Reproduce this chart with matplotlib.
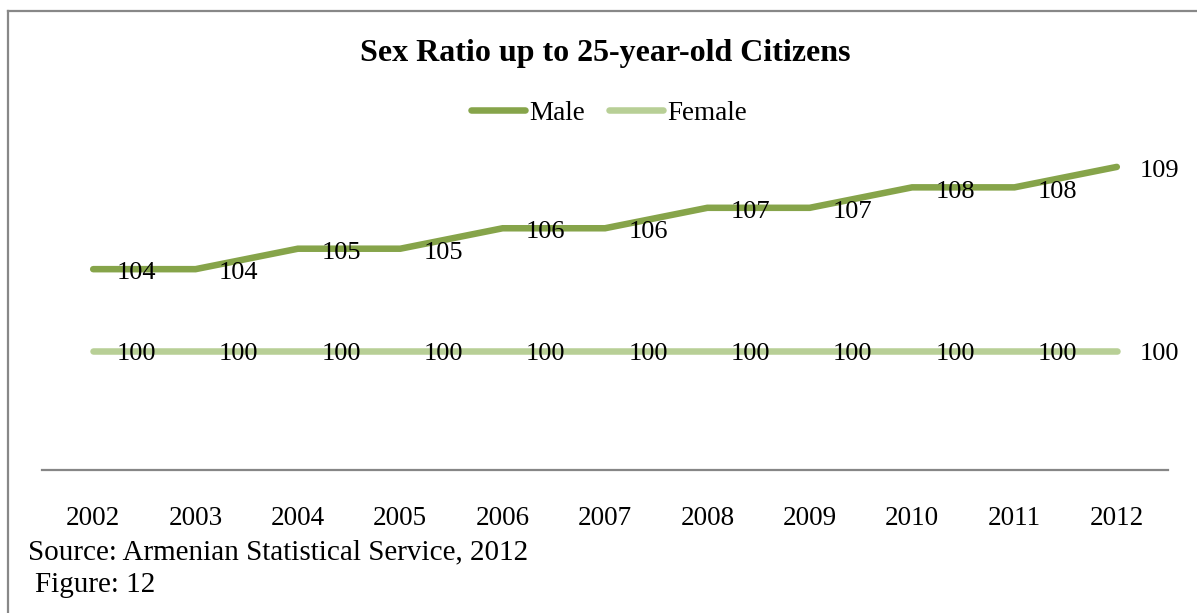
import matplotlib
matplotlib.use("Agg")
import matplotlib.pyplot as plt
from matplotlib.lines import Line2D

plt.rcParams['font.family'] = ['Liberation Serif', 'DejaVu Serif']

years = ['2002', '2003', '2004', '2005', '2006', '2007', '2008', '2009', '2010', '2011', '2012']
male = [104, 104, 105, 105, 106, 106, 107, 107, 108, 108, 109]
female = [100, 100, 100, 100, 100, 100, 100, 100, 100, 100, 100]

W, H = 1197, 613
fig = plt.figure(figsize=(W / 100, H / 100), dpi=100)

# axes box in pixel terms: x from 42 to 1168, y from 126 (top) to 470 (axis line)
ax = fig.add_axes([42 / W, 1 - 470 / H, (1168 - 42) / W, (470 - 126) / H])
x = list(range(len(years)))
male_c = '#86A44A'
female_c = '#B8CF96'
ax.plot(x, male, color=male_c, lw=4.7, solid_capstyle='round', solid_joinstyle='miter', label='Male')
ax.plot(x, female, color=female_c, lw=4.7, solid_capstyle='round', label='Female')

for xi, v in zip(x, male):
    ax.annotate(str(v), (xi, v), xytext=(31, -3), textcoords='offset points',
                ha='center', va='center', fontsize=19)
for xi, v in zip(x, female):
    ax.annotate(str(v), (xi, v), xytext=(31, -2), textcoords='offset points',
                ha='center', va='center', fontsize=19)

ax.set_xlim(-0.5, len(years) - 0.5)
ax.set_ylim(94.18, 111)
ax.set_xticks(x)
ax.set_xticklabels(years, fontsize=19.5)
ax.set_yticks([])
ax.tick_params(axis='x', length=0, pad=26)
for s in ['top', 'right', 'left']:
    ax.spines[s].set_visible(False)
ax.spines['bottom'].set_color('#868686')
ax.spines['bottom'].set_linewidth(1.6)

fig.text(605 / W, 1 - 53 / H, 'Sex Ratio up to 25-year-old Citizens', ha='center', va='center',
         fontsize=23, fontweight='bold')

fig.legend(handles=ax.get_lines(), loc='center', bbox_to_anchor=(609 / W, 1 - 113 / H), ncol=2,
           frameon=False, fontsize=19.5, handlelength=2.0, handletextpad=0.15, columnspacing=0.9)

fig.text(28 / W, 1 - 552 / H, 'Source: Armenian Statistical Service, 2012', ha='left', va='center', fontsize=21)
fig.text(35 / W, 1 - 585 / H, 'Figure: 12', ha='left', va='center', fontsize=21)

# frame lines along the top and left edges
fig.add_artist(Line2D([8 / W, 1], [1 - 11 / H, 1 - 11 / H], color='#888888', lw=1.6))
fig.add_artist(Line2D([8 / W, 8 / W], [1 - 11 / H, 0], color='#888888', lw=1.6))

fig.savefig('out.png', dpi=100)
